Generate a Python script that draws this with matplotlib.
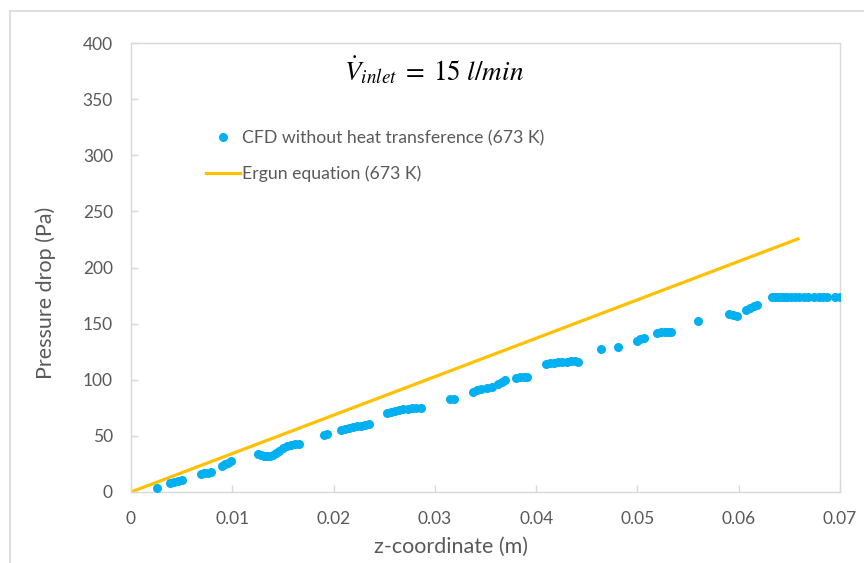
import numpy as np
import matplotlib.pyplot as plt
from matplotlib.lines import Line2D

plt.rcParams['font.family'] = ['Lato', 'DejaVu Sans']
plt.rcParams['mathtext.fontset'] = 'stix'

# CFD pressure drop along the bed, z in m, dp in Pa
cfd_z = [0.00257,
         0.00385, 0.00425, 0.00464, 0.00504,
         0.0069, 0.0072, 0.0076, 0.0079,
         0.0090, 0.0093, 0.0096, 0.0099,
         0.01254, 0.01284, 0.01313, 0.01343, 0.01372, 0.01402, 0.01432, 0.01461,
         0.0150, 0.0154, 0.0158, 0.0162, 0.0166,
         0.0191, 0.0194,
         0.0207, 0.0211, 0.0215, 0.0219, 0.0223, 0.0227, 0.0231, 0.0235,
         0.0253, 0.0257, 0.0261, 0.0265, 0.0269, 0.0273, 0.0277, 0.0281, 0.0286,
         0.0315, 0.0319,
         0.0338, 0.0342, 0.0346, 0.0351, 0.0356,
         0.0362, 0.0366, 0.0369,
         0.0380, 0.0384, 0.0388, 0.0391,
         0.0410, 0.0414, 0.0418, 0.0422, 0.0426, 0.0430, 0.0434, 0.0438, 0.0441,
         0.0464, 0.0481,
         0.0500, 0.0503, 0.0506,
         0.0519, 0.0523, 0.0527, 0.0530, 0.0533,
         0.0560,
         0.0590, 0.0594, 0.0598,
         0.0607, 0.0611, 0.0615, 0.0618,
         0.0633, 0.0636, 0.0639, 0.0642, 0.0645, 0.0648, 0.0652, 0.0656, 0.0660,
         0.0664, 0.0668, 0.0674, 0.0679, 0.0683, 0.0687, 0.0695, 0.0700]
cfd_dp = [3.6,
          8.0, 8.9, 9.8, 10.7,
          16.0, 16.9, 16.9, 17.8,
          23.0, 25.0, 26.0, 27.6,
          33.5, 33.0, 32.0, 32.0, 32.0, 33.0, 34.7, 36.5,
          39.5, 41.0, 42.0, 43.0, 43.0,
          50.8, 51.7,
          55.0, 56.0, 57.0, 58.0, 58.5, 59.0, 60.0, 60.6,
          70.4, 71.5, 72.5, 73.0, 73.5, 74.0, 74.5, 75.0, 75.0,
          83.0, 83.0,
          89.0, 90.5, 91.5, 92.5, 93.5,
          96.0, 98.0, 100.0,
          101.5, 102.5, 102.5, 102.5,
          114.0, 115.0, 115.0, 116.0, 116.0, 116.0, 117.0, 117.0, 116.0,
          127.0, 129.0,
          134.5, 136.0, 137.0,
          142.0, 142.5, 142.5, 142.5, 142.5,
          152.0,
          158.5, 157.7, 156.8,
          162.0, 164.0, 166.0, 167.0,
          173.5, 173.5, 173.5, 173.5, 173.5, 173.5, 173.5, 173.5, 173.5,
          173.5, 173.5, 173.5, 173.5, 173.5, 173.5, 173.5, 173.5]

# Ergun correlation (straight line)
ergun_z = [0.0, 0.066]
ergun_dp = [0.0, 226.0]

x_ticks = [0, 0.01, 0.02, 0.03, 0.04, 0.05, 0.06, 0.07]
x_labels = ['0', '0.01', '0.02', '0.03', '0.04', '0.05', '0.06', '0.07']
y_ticks = [0, 50, 100, 150, 200, 250, 300, 350, 400]

blue = '#00B0F0'
gold = '#FFC000'
grey_txt = '#595959'
grey_line = '#D9D9D9'

fig = plt.figure(figsize=(8.64, 5.63), dpi=100)
W, H = 864, 563
ax = fig.add_axes([131 / W, 1 - 492 / H, 709 / W, 449 / H])

ax.plot(ergun_z, ergun_dp, color=gold, lw=2.3, solid_capstyle='butt',
        label='Ergun equation (673 K)', zorder=2)
ax.plot(cfd_z, cfd_dp, 'o', color=blue, ms=6.5, mec='none',
        label='CFD without heat transference (673 K)', zorder=3)

ax.set_xlim(0, 0.07)
ax.set_ylim(0, 400)
ax.set_xticks(x_ticks)
ax.set_xticklabels(x_labels)
ax.set_yticks(y_ticks)
ax.tick_params(direction='in', length=5, width=1, color=grey_line,
               labelcolor=grey_txt, labelsize=12.5)
ax.tick_params(axis='x', pad=14)
ax.tick_params(axis='y', pad=13)
for s in ax.spines.values():
    s.set_color(grey_line)
    s.set_linewidth(1)

fig.text(451 / W, 1 - 547 / H, 'z-coordinate (m)', ha='center', va='center',
         fontsize=15.5, color=grey_txt)
fig.text(46 / W, 1 - 293 / H, 'Pressure drop (Pa)', ha='center', va='center',
         rotation=90, fontsize=15.5, color=grey_txt)

fig.text(434 / W, 1 - 70 / H, r'$\dot{V}_{inlet}\;=\;15\ l/min$',
         ha='center', va='center', fontsize=19.5, color='black')

h_pts = Line2D([], [], marker='o', ls='none', color=blue, ms=6.5, mec='none')
h_line = Line2D([], [], color=gold, lw=2.3)
leg = ax.legend([h_pts, h_line],
                ['CFD without heat transference (673 K)', 'Ergun equation (673 K)'],
                loc='upper left', bbox_to_anchor=(206 / W, 1 - 130 / H),
                bbox_transform=fig.transFigure, frameon=False, fontsize=12.7,
                handlelength=1.9, handletextpad=0.15, labelspacing=1.08,
                borderpad=0, borderaxespad=0)
for t in leg.get_texts():
    t.set_color(grey_txt)

# outer chart border
fig.add_artist(Line2D([10 / W, 10 / W], [0, 1 - 11 / H], color=grey_line,
                      lw=1.2, transform=fig.transFigure))
fig.add_artist(Line2D([10 / W, 1], [1 - 11 / H, 1 - 11 / H], color=grey_line,
                      lw=1.2, transform=fig.transFigure))

fig.savefig('out.png', dpi=100)
